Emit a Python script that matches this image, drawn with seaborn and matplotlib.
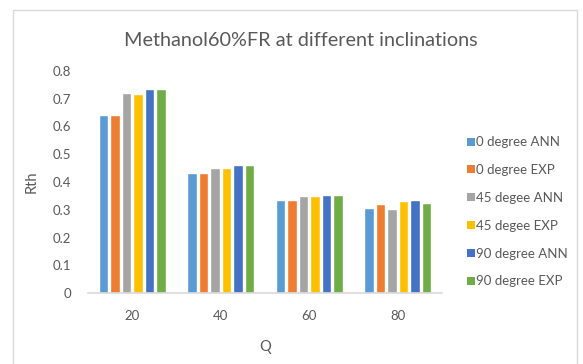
import matplotlib
matplotlib.use("Agg")
import matplotlib.pyplot as plt
from matplotlib.patches import Patch
from matplotlib.lines import Line2D
import seaborn as sns
import pandas as pd

# Flow rates (Q) and thermal resistance (Rth) per inclination series
q_values = ["20", "40", "60", "80"]
series_names = ["0 degree ANN", "0 degree EXP", "45 degee ANN",
                "45 degee EXP", "90 degree ANN", "90 degree EXP"]
deg0_ann = [0.640, 0.432, 0.337, 0.308]
deg0_exp = [0.640, 0.432, 0.337, 0.320]
deg45_ann = [0.719, 0.452, 0.349, 0.302]
deg45_exp = [0.716, 0.452, 0.349, 0.332]
deg90_ann = [0.736, 0.460, 0.355, 0.335]
deg90_exp = [0.736, 0.460, 0.355, 0.326]
palette = ["#5B9BD5", "#ED7D31", "#A5A5A5", "#FFC000", "#4472C4", "#70AD47"]

all_series = [deg0_ann, deg0_exp, deg45_ann, deg45_exp, deg90_ann, deg90_exp]
rows = []
for name, vals in zip(series_names, all_series):
    for q, v in zip(q_values, vals):
        rows.append({"Q": q, "Rth": v, "series": name})
df = pd.DataFrame(rows)

sns.set_theme(style="white")
plt.rcParams["font.family"] = ["Lato", "DejaVu Sans"]
text_color = "#595959"

fig = plt.figure(figsize=(5.83, 3.64), dpi=100)
ax = fig.add_axes([88 / 583, 1 - 293.3 / 364, (442 - 88) / 583, (293.3 - 70.7) / 364])

sns.barplot(data=df, x="Q", y="Rth", hue="series", hue_order=series_names,
            order=q_values, palette=palette, width=0.78, gap=0.2,
            saturation=1, ax=ax, legend=False)

ax.set_ylim(0, 0.8)
ax.set_xlim(-0.5, 3.5)
ax.set_yticks([0, 0.1, 0.2, 0.3, 0.4, 0.5, 0.6, 0.7, 0.8])
ax.set_yticklabels(["0", "0.1", "0.2", "0.3", "0.4", "0.5", "0.6", "0.7", "0.8"])
ax.tick_params(axis="both", length=0, colors=text_color, labelsize=9.5)
ax.tick_params(axis="y", pad=12)
ax.tick_params(axis="x", pad=12)
for side in ["top", "right", "left"]:
    ax.spines[side].set_visible(False)
ax.spines["bottom"].set_color("#D9D9D9")
ax.spines["bottom"].set_linewidth(1.2)

ax.set_xlabel("Q", color=text_color, fontsize=10.5, labelpad=13)
ax.set_ylabel("Rth", color=text_color, fontsize=10.5, labelpad=10)

fig.text(301 / 583, 1 - 40 / 364, "Methanol60%FR at different inclinations",
         ha="center", va="center", fontsize=14.3, color=text_color)

handles = [Patch(facecolor=c, edgecolor="none") for c in palette]
fig.legend(handles, series_names, loc="upper left",
           bbox_to_anchor=(462 / 583, 1 - 131 / 364), frameon=False,
           fontsize=9.5, labelcolor=text_color, handlelength=0.55,
           handleheight=0.55, handletextpad=0.12, labelspacing=1.2,
           borderaxespad=0)

# Chart area border
border = dict(color="#D9D9D9", linewidth=1.0, transform=fig.transFigure)
x0, x1, y0 = 12.5 / 583, 576.5 / 583, 1 - 10 / 364
fig.add_artist(Line2D([x0, x1], [y0, y0], **border))
fig.add_artist(Line2D([x0, x0], [0, y0], **border))
fig.add_artist(Line2D([x1, x1], [0, y0], **border))

fig.savefig("out.png", dpi=100)
